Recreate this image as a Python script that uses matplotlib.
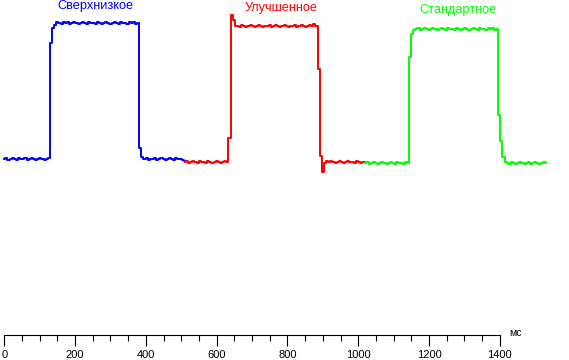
import numpy as np
import matplotlib
matplotlib.use("Agg")
import matplotlib.pyplot as plt
from matplotlib.ticker import FixedLocator

# response curves, brightness in % (0 = dark level), one sample every 6 ms
sample_ms = 6
names = ["Сверхнизкое", "Улучшенное", "Стандартное"]
colors = ["#0000ff", "#ff0000", "#00ff00"]
start_ms = [0, 510, 1020]

blue_level = [
    0.7, 1.4, 0.0, 0.7, 1.4, 0.7, 0.0, 1.4, 0.7, 0.7,
    1.4, 0.0, 0.7, 1.4, 0.7, 0.0, 0.7, 1.4, 0.7, 0.0,
    0.7, 1.4, 86.0, 97.0, 99.5,
    101.2, 100.5, 99.8, 101.2, 100.5, 101.2, 99.8, 100.5, 101.2, 100.5,
    99.8, 100.5, 101.2, 100.5, 99.8, 101.2, 100.5, 100.5, 99.8, 101.2,
    100.5, 99.8, 100.5, 101.2, 100.5, 99.8, 100.5, 101.2, 100.5, 99.8,
    101.2, 100.5, 100.5, 99.8, 101.2, 100.5, 101.2, 99.8, 100.5,
    9.0, 2.0,
    0.7, 1.4, 0.0, 0.7, 0.7, 1.4, 0.0, 0.7, 1.4, 0.7,
    0.0, 0.7, 1.4, 0.7, 0.0, 1.4, 0.7, 0.7, 0.0, -0.5,
]

red_level = [
    -1.2, -0.5, -2.0, -1.2, -0.5, -1.2, -2.0, -0.5, -1.2, -1.2,
    -2.0, -0.5, -1.2, -2.0, -1.2, -0.5, -1.2, -2.0, -1.2, -0.5,
    -1.2, 16.0, 106.6, 103.0, 98.8,
    98.5, 97.8, 99.2, 98.5, 97.8, 98.5, 99.2, 98.5, 97.8, 98.5,
    99.2, 98.5, 97.8, 98.5, 98.5, 99.2, 97.8, 98.5, 99.2, 98.5,
    97.8, 98.5, 99.2, 98.5, 97.8, 98.5, 98.5, 99.2, 97.8, 98.5,
    99.2, 98.5, 97.8, 98.5, 99.2, 98.5, 99.9, 98.5,
    67.0, 3.0, -8.6, -2.5,
    -1.0, -1.2, -0.5, -1.2, -2.0, -1.2, -0.5, -1.2, -2.0, -1.2,
    -0.5, -1.2, -1.2, -2.0, -0.5, -1.2, -2.0, -1.2, -1.8,
]

green_level = [
    -2.4, -1.7, -3.1, -2.4, -1.7, -2.4, -3.1, -2.4, -1.7, -2.4,
    -3.1, -2.4, -1.7, -2.4, -3.1, -1.7, -2.4, -2.4, -3.1, -1.7,
    -2.4, 76.0, 92.5, 95.6,
    96.5, 97.2, 95.8, 96.5, 97.2, 96.5, 95.8, 96.5, 97.2, 96.5,
    95.8, 96.5, 97.2, 96.5, 95.8, 97.2, 96.5, 96.5, 95.8, 97.2,
    96.5, 95.8, 96.5, 97.2, 96.5, 95.8, 96.5, 97.2, 96.5, 95.8,
    97.2, 96.5, 96.5, 95.8, 97.2, 96.5, 97.2, 95.8, 96.5,
    33.0, 14.0, 2.0, -1.2,
    -2.4, -3.1, -1.7, -2.4, -3.1, -2.4, -1.7, -2.4, -3.1, -2.4,
    -1.7, -3.1, -2.4, -1.7, -2.4, -3.1, -2.4, -1.7, -2.4,
]

tick_ms = [0, 200, 400, 600, 800, 1000, 1200, 1400]
minor_ms = list(range(0, 1401, 50))

plt.rcParams["font.family"] = ["Liberation Sans", "DejaVu Sans"]

fig = plt.figure(figsize=(5.69, 3.6), dpi=100)
ax = fig.add_axes([0, 0, 1, 1])

for lev, t0, c in zip([blue_level, red_level, green_level], start_ms, colors):
    t = t0 + sample_ms * np.arange(len(lev))
    ax.plot(t, lev, color=c, lw=1.4, drawstyle="steps-mid")

# curve names above each pulse (pixel positions of the original)
label_pos = [(95, 6.5), (281.5, 7.5), (458.5, 10.5)]
for name, c, (px, py) in zip(names, colors, label_pos):
    fig.text(px / 569, 1 - py / 360, name, color=c, fontsize=9.2,
             ha="center", va="center")

# 1 px = 1/0.354 ms horizontally, 1.36 px per % vertically
ax.set_xlim(-4.3 / 0.354, (569 - 4.3) / 0.354)
ax.set_ylim(-200 / 1.36, 160 / 1.36)

axis_y = (160 - 334.7) / 1.36
for s in ["top", "right", "left"]:
    ax.spines[s].set_visible(False)
ax.spines["bottom"].set_position(("data", axis_y))
ax.spines["bottom"].set_bounds(0, 1400)
ax.spines["bottom"].set_linewidth(0.8)

ax.set_yticks([])
ax.xaxis.set_major_locator(FixedLocator(tick_ms))
ax.xaxis.set_minor_locator(FixedLocator(minor_ms))
ax.set_xticklabels([str(v) for v in tick_ms])
ax.tick_params(axis="x", which="major", direction="out", length=8, width=0.8,
               pad=3, labelsize=8)
ax.tick_params(axis="x", which="minor", direction="out", length=4.3, width=0.8)

ax.text(1426, axis_y + 1.5, "мс", fontsize=7.5, ha="left", va="center")

fig.savefig("out.png", dpi=100)
